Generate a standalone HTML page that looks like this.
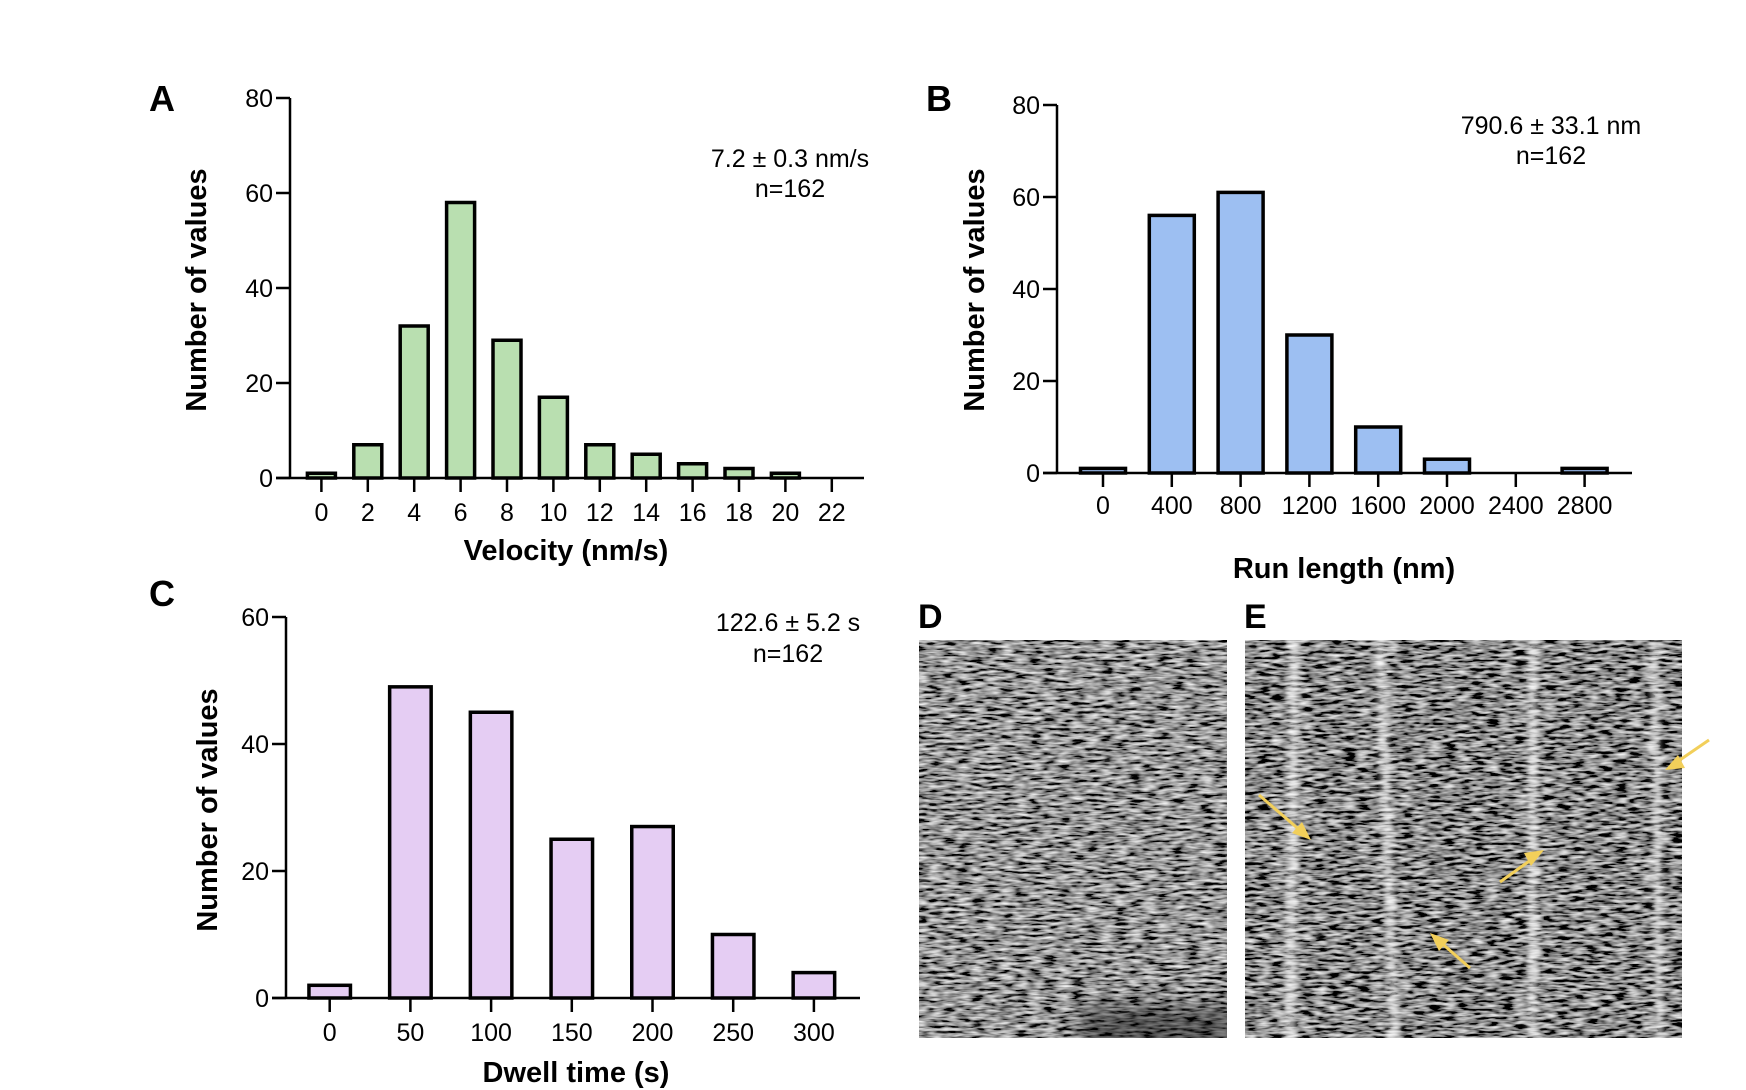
<!DOCTYPE html>
<html><head><meta charset="utf-8"><style>
html,body{margin:0;padding:0;background:#fff;}
svg{display:block;font-family:"Liberation Sans",Arial,sans-serif;}
</style></head><body>
<svg id="fig" width="1746" height="1090" viewBox="0 0 1746 1090" xmlns="http://www.w3.org/2000/svg">
<defs>
<filter id="nz1" x="0" y="0" width="1" height="1"><feTurbulence type="fractalNoise" baseFrequency="0.07 0.35" numOctaves="2" seed="5" result="t"/>
<feColorMatrix in="t" type="matrix" values="1.6 0 0 0 -0.5  1.6 0 0 0 -0.5  1.6 0 0 0 -0.5  0 0 0 0 1"/></filter>
<filter id="nz2" x="0" y="0" width="1" height="1"><feTurbulence type="fractalNoise" baseFrequency="0.07 0.35" numOctaves="2" seed="9" result="t"/>
<feColorMatrix in="t" type="matrix" values="1.7 0 0 0 -0.6  1.7 0 0 0 -0.6  1.7 0 0 0 -0.6  0 0 0 0 1"/></filter>
<filter id="blur3"><feGaussianBlur stdDeviation="3"/></filter>
<filter id="blur10" x="-50%" y="-50%" width="200%" height="200%"><feGaussianBlur stdDeviation="10"/></filter>
<clipPath id="clipD"><rect x="919" y="640" width="308" height="398"/></clipPath>
<clipPath id="clipE"><rect x="1245" y="640" width="437" height="398"/></clipPath>
</defs>

<g clip-path="url(#clipD)">
<rect x="919" y="640" width="308" height="398" fill="#777" filter="url(#nz1)"/>
<rect x="1080" y="1005" width="160" height="50" fill="#000" opacity="0.45" filter="url(#blur10)"/>
</g>
<g clip-path="url(#clipE)">
<rect x="1245" y="640" width="437" height="398" fill="#444" filter="url(#nz2)"/>
<g filter="url(#blur3)" opacity="0.6" fill="#fff">
<path d="M1290 640 L1300 640 L1296 1038 L1284 1038 Z"/>
<path d="M1375 640 L1385 640 L1400 1038 L1390 1038 Z"/>
<path d="M1528 640 L1538 640 L1538 1038 L1528 1038 Z"/>
<path d="M1650 640 L1658 640 L1664 1038 L1656 1038 Z"/>
</g>
</g>
<g stroke="#f2cf5a" stroke-width="3" fill="#f2cf5a">
<line x1="1259" y1="795" x2="1302" y2="832"/><polygon points="1311,840 1292,833 1302,822" stroke="none"/>
<line x1="1500" y1="882" x2="1535" y2="857"/><polygon points="1544,850 1531,866 1524,853" stroke="none"/>
<line x1="1470" y1="968" x2="1438" y2="940"/><polygon points="1430,933 1449,940 1439,951" stroke="none"/>
<line x1="1709" y1="740" x2="1674" y2="764"/><polygon points="1665,770 1678,755 1685,768" stroke="none"/>
</g>
<text x="918" y="628" font-size="34" font-weight="bold">D</text>
<text x="1244" y="628" font-size="34" font-weight="bold">E</text>
</svg>
<script>
const catsA = [0,2,4,6,8,10,12,14,16,18,20,22];
const valsA = [1,7,32,58,29,17,7,5,3,2,1,0];
const yTicksA = [0,20,40,60,80];
const catsB = [0,400,800,1200,1600,2000,2400,2800];
const valsB = [1,56,61,30,10,3,0,1];
const yTicksB = [0,20,40,60,80];
const catsC = [0,50,100,150,200,250,300];
const valsC = [2,49,45,25,27,10,4];
const yTicksC = [0,20,40,60];

const NS = "http://www.w3.org/2000/svg";
const fig = document.getElementById('fig');
function mk(tag, attrs, parent, txt){
  const e = document.createElementNS(NS, tag);
  for (const k in attrs) e.setAttribute(k, attrs[k]);
  if (txt !== undefined) e.textContent = txt;
  parent.appendChild(e); return e;
}
function hist(c, cats, vals, yTicks){
  const g = mk('g', {}, fig);
  
  
  const yMax = yTicks[yTicks.length-1];
  const yS = v => c.y0 - (c.y0 - c.yTop) * v / yMax;
  const xS = i => c.x0 + i * c.step;
  vals.forEach((v,i)=>{
    const h = c.y0 - yS(v);
    const r = mk('rect', {x: xS(i)-c.bw/2, y: yS(v), width: c.bw, height: Math.max(h,0), fill: c.fill, stroke:'#000', 'stroke-width':3.5}, g);
    
    
  });
  const ya = mk('line', {x1:c.ax, y1:yS(yMax), x2:c.ax, y2:c.y0, stroke:'#000','stroke-width':2.5}, g);
  
  
  yTicks.forEach(t=>{
    mk('line',{x1:c.ax-14,y1:yS(t),x2:c.ax,y2:yS(t),stroke:'#000','stroke-width':2.5},g);
    const tl = mk('text',{x:c.ax-17,y:yS(t)+9,'font-size':25,'text-anchor':'end'},g,String(t));
    
    
  });
  const xa = mk('line',{x1:c.ax-14,y1:c.y0,x2:c.xEnd,y2:c.y0,stroke:'#000','stroke-width':2.5},g);
  
  
  cats.forEach((t,i)=>{
    mk('line',{x1:xS(i),y1:c.y0,x2:xS(i),y2:c.y0+14,stroke:'#000','stroke-width':2.5},g);
    const tl = mk('text',{x:xS(i),y:c.tickY+9,'font-size':25,'text-anchor':'middle'},g,String(t));
    
    
  });
  const xt = mk('text',{x:c.xtX,y:c.xtY+10,'font-size':29,'font-weight':'bold','text-anchor':'middle'},g,c.xTitle);
  
  
  const yt = mk('text',{x:0,y:0,'font-size':29,'font-weight':'bold','text-anchor':'middle',transform:`translate(${c.ytX+10},${c.ytY}) rotate(-90)`},g,'Number of values');
  
  
  const a1 = mk('text',{x:c.anX,y:c.anY1+9,'font-size':25,'text-anchor':'middle'},g,c.an);
  
  
  const a2 = mk('text',{x:c.anX,y:c.anY2+9,'font-size':25,'text-anchor':'middle'},g,'n=162');
  
  
  const pl = mk('text',{x:c.plX,y:c.plY+13,'font-size':36,'font-weight':'bold','text-anchor':'middle'},g,c.letter);
  
  
}
hist({name:'histogram-velocity',ax:290,y0:478,yTop:98,x0:321.4,step:46.4,bw:28,xEnd:864,fill:'#b9dfb0',tickY:512,xtX:566,xtY:550,xTitle:'Velocity (nm/s)',ytX:196,ytY:290,anX:790,anY1:158,anY2:188,an:'7.2 ± 0.3 nm/s',plX:162,plY:98,letter:'A'}, catsA, valsA, yTicksA);
hist({name:'histogram-run-length',ax:1057,y0:473,yTop:105,x0:1103,step:68.8,bw:45,xEnd:1632,fill:'#9dbff2',tickY:505,xtX:1344,xtY:568,xTitle:'Run length (nm)',ytX:974,ytY:290,anX:1551,anY1:125,anY2:155,an:'790.6 ± 33.1 nm',plX:939,plY:98,letter:'B'}, catsB, valsB, yTicksB);
hist({name:'histogram-dwell-time',ax:286,y0:998,yTop:617,x0:329.7,step:80.7,bw:41.5,xEnd:860,fill:'#e5cdf3',tickY:1032,xtX:576,xtY:1072,xTitle:'Dwell time (s)',ytX:207,ytY:810,anX:788,anY1:622,anY2:653,an:'122.6 ± 5.2 s',plX:162,plY:593,letter:'C'}, catsC, valsC, yTicksC);
</script>
</body></html>
